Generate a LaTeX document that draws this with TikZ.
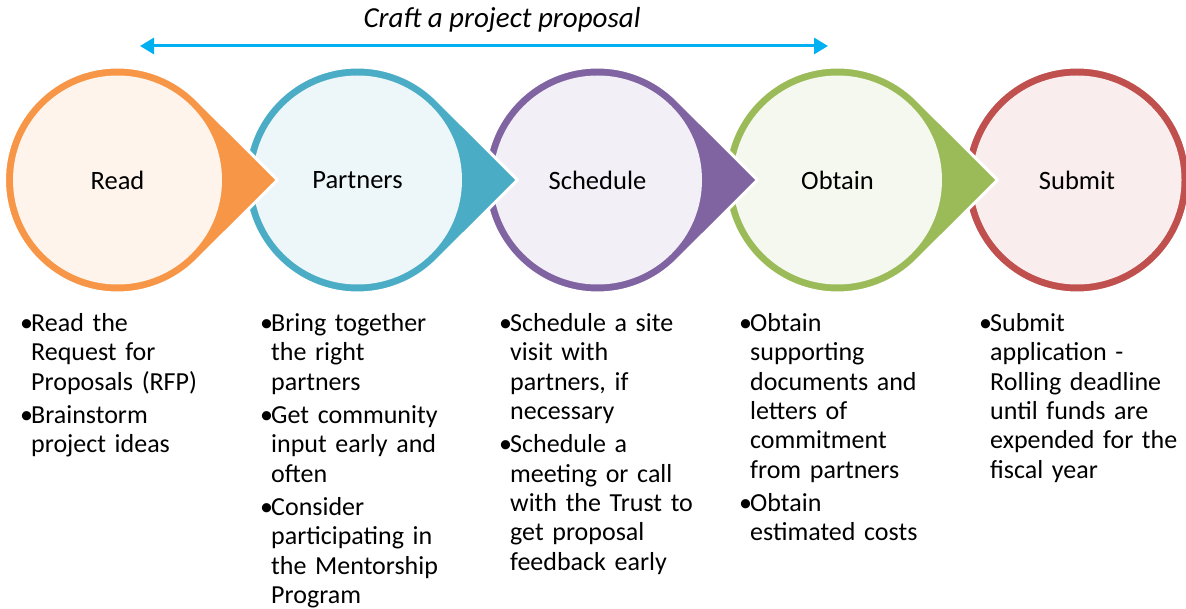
\documentclass[tikz,border=0pt]{standalone}
\usepackage{fontspec}
\setmainfont{Carlito}
\usetikzlibrary{arrows.meta,calc}
\definecolor{cOrange}{HTML}{F79646}
\definecolor{cTeal}{HTML}{4BACC6}
\definecolor{cPurple}{HTML}{8064A2}
\definecolor{cGreen}{HTML}{9BBB59}
\definecolor{cRed}{HTML}{C0504D}
\definecolor{cArrow}{HTML}{00B0F0}
\newcommand{\bitem}[1]{\par\leftskip=11pt\noindent\llap{\makebox[11pt][l]{\textbullet}}#1\par}
\tikzset{
  stepcircle/.style={circle, inner sep=0pt, minimum size=209pt, font=\fontsize{26.5}{30}\selectfont},
  tear/.style={draw=white, line width=3pt, line join=round},
  bullets/.style={anchor=north west, inner sep=0pt, text width=215pt,
    font=\fontsize{26}{29.4}\selectfont, execute at begin node={\setlength{\parskip}{3.8pt}\raggedright}},
  spanarrow/.style={draw=cArrow, line width=3pt, {Triangle[length=14pt,width=16pt]}-{Triangle[length=14pt,width=16pt]}}
}
\newcommand{\teardrop}[2]{%
  \filldraw[tear, fill=#2] ($(#1)+(160pt,0pt)$) -- ($(#1)+(45.07:113pt)$)
     arc[start angle=45.07, end angle=314.93, radius=113pt] -- cycle;}
\begin{document}
\begin{tikzpicture}[x=1pt,y=-1pt]
\path[use as bounding box] (0,0) rectangle (1186,609);
% centers
\coordinate (cA) at (117.5,180);
\coordinate (cB) at (357.5,180);
\coordinate (cC) at (597.5,180);
\coordinate (cD) at (837.5,180);
\coordinate (cE) at (1077,180);
% Submit
\filldraw[tear, fill=cRed] (cE) circle[radius=113pt];
\node[stepcircle, fill=cRed!10] (submit) at (cE) {Submit};
% Obtain
\teardrop{cD}{cGreen}
\node[stepcircle, fill=cGreen!10] (obtain) at (cD) {Obtain};
% Schedule
\teardrop{cC}{cPurple}
\node[stepcircle, fill=cPurple!10] (schedule) at (cC) {Schedule};
% Partners
\teardrop{cB}{cTeal}
\node[stepcircle, fill=cTeal!10] (partners) at (cB) {Partners};
% Read
\teardrop{cA}{cOrange}
\node[stepcircle, fill=cOrange!10] (read) at (cA) {Read};
% top arrow
\coordinate (arrL) at (140,46);
\coordinate (arrR) at (828,46);
\draw[spanarrow] (arrL) -- (arrR);
\node[font=\fontsize{29}{33}\selectfont\itshape] (title) at (502,20) {Craft a project proposal};
% bullet columns
\node[bullets] (tA) at (20,298) {\bitem{Read the\newline Request for\newline Proposals (RFP)}\bitem{Brainstorm\newline project ideas}};
\node[bullets] (tB) at (260,298) {\bitem{Bring together\newline the right\newline partners}\bitem{Get community\newline input early and\newline often}\bitem{Consider\newline participating in\newline the Mentorship\newline Program}};
\node[bullets] (tC) at (499,298) {\bitem{Schedule a site\newline visit with\newline partners, if\newline necessary}\bitem{Schedule a\newline meeting or call\newline with the Trust to\newline get proposal\newline feedback early}};
\node[bullets] (tD) at (739,298) {\bitem{Obtain\newline supporting\newline documents and\newline letters of\newline commitment\newline from partners}\bitem{Obtain\newline estimated costs}};
\node[bullets] (tE) at (979,298) {\bitem{Submit\newline application -\newline Rolling deadline\newline until funds are\newline expended for the\newline fiscal year}};
\end{tikzpicture}
\end{document}
